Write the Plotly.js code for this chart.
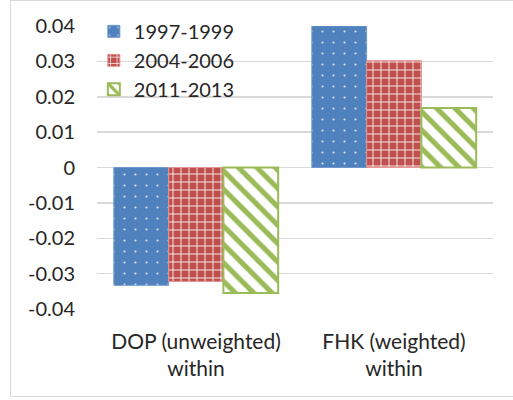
<!DOCTYPE html>
<html>
<head>
<meta charset="utf-8">
<script src="https://cdn.plot.ly/plotly-3.0.1.min.js"></script>
<style>
html,body{margin:0;padding:0;background:#fff;}
#frame{position:absolute;left:10px;top:0px;width:520px;height:397px;border:1px solid #d9d9d9;box-sizing:border-box;}
#chart{position:absolute;left:0;top:0;width:513px;height:400px;}
</style>
</head>
<body>
<div id="frame"></div>
<div id="chart"></div>
<script>
const categories = ["DOP (unweighted)<br>within", "FHK (weighted)<br>within"];
const seriesNames = ["1997-1999", "2004-2006", "2011-2013"];
const values1997 = [-0.0333, 0.0400];
const values2004 = [-0.0322, 0.0302];
const values2011 = [-0.0355, 0.0168];
const yTicks = [0.04, 0.03, 0.02, 0.01, 0, -0.01, -0.02, -0.03, -0.04];
const yTickText = ["0.04", "0.03", "0.02", "0.01", "0", "-0.01", "-0.02", "-0.03", "-0.04"];

const FONT = "Lato, 'Open Sans', sans-serif";
const TXT = "#262626";
const blue = "#4F81BD", red = "#C0504D", green = "#9BBB59";

const traces = [
  {type:"bar", name:seriesNames[0], x:categories, y:values1997, legendgroup:"a",
   marker:{color:blue, line:{color:"#6f97cc", width:1},
     pattern:{shape:".", bgcolor:blue, fgcolor:"#dfe8f5", size:11, solidity:0.03, fillmode:"replace"}}},
  {type:"bar", name:seriesNames[1], x:categories, y:values2004, legendgroup:"b",
   marker:{color:red, line:{color:"#e09593", width:1},
     pattern:{shape:"+", bgcolor:red, fgcolor:"#ffffff", size:8, solidity:0.2, fillmode:"replace"}}},
  {type:"bar", name:seriesNames[2], x:categories, y:values2011, legendgroup:"c",
   marker:{color:green, line:{color:green, width:2},
     pattern:{shape:"\\", bgcolor:"#ffffff", fgcolor:green, size:13, solidity:0.4, fillmode:"replace"}}}
];

const layout = {
  width:513, height:400,
  margin:{l:97, r:20, t:26, b:91, pad:0},
  paper_bgcolor:"rgba(0,0,0,0)", plot_bgcolor:"rgba(0,0,0,0)",
  font:{family:FONT, size:20, color:TXT},
  barmode:"group", bargap:0.17, bargroupgap:0,
  showlegend:true,
  legend:{x:-0.008, y:1.05, xanchor:"left", yanchor:"top", bgcolor:"rgba(0,0,0,0)",
          font:{family:FONT, size:20, color:TXT}, tracegroupgap:2, traceorder:"normal"},
  xaxis:{type:"category", showgrid:false, zeroline:false, showline:false, ticks:"",
         tickfont:{family:FONT, size:21, color:TXT}, ticklabelstandoff:18},
  yaxis:{range:[-0.04, 0.04], tickmode:"array", tickvals:yTicks, ticktext:yTickText,
         showgrid:true, gridcolor:"#d9d9d9", gridwidth:1.5, zeroline:true, zerolinecolor:"#d9d9d9", zerolinewidth:1.5,
         showline:false, ticks:"", ticklabelstandoff:21,
         tickfont:{family:FONT, size:20, color:TXT}}
};

Plotly.newPlot("chart", traces, layout, {displayModeBar:false, staticPlot:true});
</script>
</body>
</html>
